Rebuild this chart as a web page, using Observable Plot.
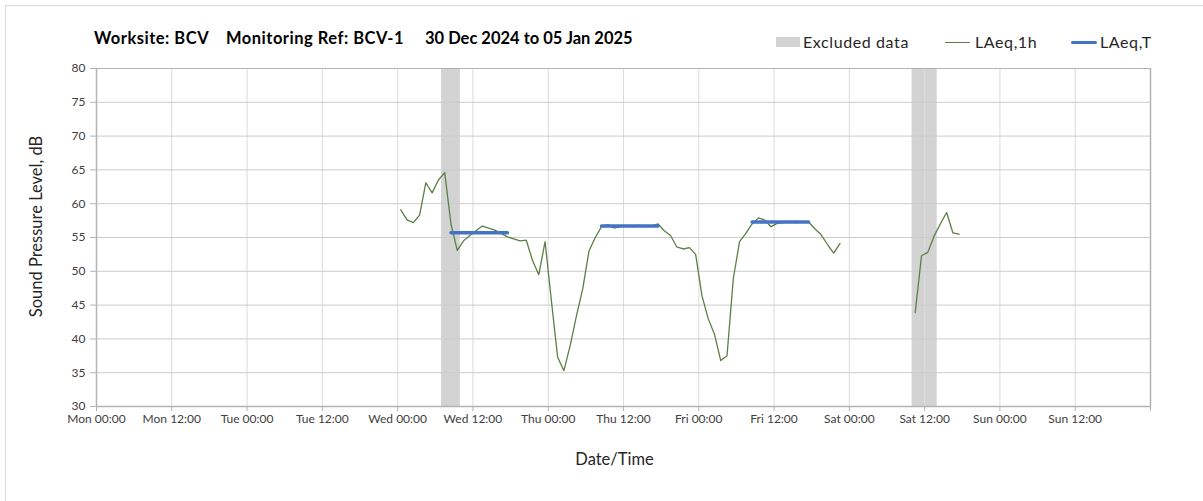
<!DOCTYPE html>
<html><head><meta charset="utf-8">
<script src="https://cdn.jsdelivr.net/npm/d3@7"></script>
<script src="https://cdn.jsdelivr.net/npm/@observablehq/plot@0.6"></script>
<style>
html,body{margin:0;padding:0;background:#fff;overflow:hidden;}
#wrap{position:relative;width:1203px;height:501px;font-family:Lato,"Open Sans",sans-serif;}
#frame{position:absolute;left:5px;top:5px;width:1400px;height:700px;border:1px solid #d9d9d9;box-sizing:border-box;}
#chart{position:absolute;left:0;top:0;}
.t{position:absolute;top:28px;font-weight:bold;font-size:16.5px;line-height:20px;color:#000;white-space:nowrap;letter-spacing:0.5px;}
.lg{position:absolute;top:32px;font-size:16px;line-height:20px;color:#262626;white-space:nowrap;letter-spacing:0.6px;}
.sw{position:absolute;}
</style></head>
<body>
<div id="wrap">
  <div id="frame"></div>
  <div id="chart"></div>
  <div class="t" style="left:94px">Worksite: BCV</div>
  <div class="t" style="left:226px">Monitoring Ref: BCV-1</div>
  <div class="t" style="left:425px;letter-spacing:0">30 Dec 2024 to 05 Jan 2025</div>
  <div class="sw" style="left:776px;top:37px;width:24px;height:10px;background:#d3d3d3"></div>
  <div class="lg" style="left:803px">Excluded data</div>
  <div class="sw" style="left:945px;top:41.5px;width:25px;height:1.3px;background:#5b7f45"></div>
  <div class="lg" style="left:975px">LAeq,1h</div>
  <div class="sw" style="left:1071px;top:40.5px;width:26px;height:3.5px;background:#4472c4;border-radius:2px"></div>
  <div class="lg" style="left:1100px">LAeq,T</div>
</div>
<script>
// x positions are hours from Mon 30 Dec 2024 00:00
const xTickHours = [0,12,24,36,48,60,72,84,96,108,120,132,144,156,168];
const xTickLabels = ["Mon 00:00","Mon 12:00","Tue 00:00","Tue 12:00","Wed 00:00","Wed 12:00","Thu 00:00","Thu 12:00","Fri 00:00","Fri 12:00","Sat 00:00","Sat 12:00","Sun 00:00","Sun 12:00",""];
const yTicks = [30,35,40,45,50,55,60,65,70,75,80];

// LAeq,1h, hourly values (plotted at mid-hour)
const seg1Start = 48.5;
const seg1Values = [59.1,57.6,57.2,58.3,63.1,61.6,63.5,64.6,57.0,53.1,
  54.5,55.3,56.0,56.7,56.4,56.1,55.6,55.1,54.8,54.5,
  54.6,51.6,49.5,54.4,45.7,37.3,35.3,39.0,43.4,47.4,
  53.0,55.0,56.6,56.9,56.4,56.6,56.7,56.6,56.8,56.6,
  56.7,57.0,56.0,55.3,53.6,53.3,53.5,52.5,46.4,43.0,
  40.7,36.8,37.5,48.9,54.4,55.6,57.0,57.9,57.6,56.6,
  57.1,57.2,57.3,57.2,57.3,57.3,56.3,55.4,54.0,52.7,54.1];
const seg2Start = 130.5;
const seg2Values = [43.9,52.3,52.8,55.2,57.0,58.7,55.7,55.5];

// LAeq,T periods
const laeqTStart = [56.5, 80.5, 104.5];
const laeqTEnd = [65.5, 89.5, 113.5];
const laeqTValue = [55.7, 56.7, 57.3];

// Excluded data periods
const exclStart = [55, 130];
const exclEnd = [58, 134];

const hourly = [
  ...seg1Values.map((v,i)=>({hour:seg1Start+i, value:v, seg:1})),
  ...seg2Values.map((v,i)=>({hour:seg2Start+i, value:v, seg:2}))
];
const laeqT = laeqTValue.map((v,i)=>({start:laeqTStart[i], end:laeqTEnd[i], value:v}));
const excluded = exclStart.map((s,i)=>({start:s, end:exclEnd[i]}));

const plot = Plot.plot({
  width:1203, height:501,
  marginLeft:96, marginRight:53, marginTop:68, marginBottom:95,
  x:{domain:[0,168]},
  y:{domain:[30,80]},
  style:{fontFamily:"Lato, 'Open Sans', sans-serif", fontSize:"12px", color:"#404040", background:"transparent"},
  marks:[
    Plot.rect(excluded, {x1:"start", x2:"end", y1:()=>30, y2:()=>80, fill:"#d3d3d3"}),
    Plot.gridX(xTickHours, {stroke:"#dcdcdc", strokeOpacity:1}),
    Plot.gridY(yTicks, {stroke:"#cccccc", strokeOpacity:1}),
    Plot.ruleY([80], {stroke:"#b3b3b3"}),
    Plot.ruleX([168], {stroke:"#b3b3b3", strokeWidth:1.5}),
    Plot.ruleX([0], {stroke:"#b3b3b3", strokeWidth:1.5}),
    Plot.ruleY([30], {stroke:"#b3b3b3", strokeWidth:1.5}),
    Plot.axisY(yTicks, {tickSize:6, tickPadding:5, stroke:"#b3b3b3", fill:"#404040", label:null}),
    Plot.axisX(xTickHours, {tickSize:5, tickPadding:3, stroke:"#b3b3b3", fill:"#404040", label:null,
      tickFormat:d=>xTickLabels[xTickHours.indexOf(d)]}),
    Plot.text(["Sound Pressure Level, dB"], {frameAnchor:"left", textAnchor:"middle", dx:-60, dy:-11, rotate:-90, fontSize:16.5, fill:"#262626"}),
    Plot.text(["Date/Time"], {frameAnchor:"bottom", textAnchor:"middle", dy:58, dx:-9, fontSize:16.5, fill:"#262626"}),
    Plot.line(hourly, {x:"hour", y:"value", z:"seg", stroke:"#5b7f45", strokeWidth:1.3}),
    Plot.link(laeqT, {x1:"start", x2:"end", y1:"value", y2:"value", stroke:"#4472c4", strokeWidth:3.5, strokeLinecap:"round"})
  ]
});
document.getElementById("chart").appendChild(plot);
</script>
</body></html>
